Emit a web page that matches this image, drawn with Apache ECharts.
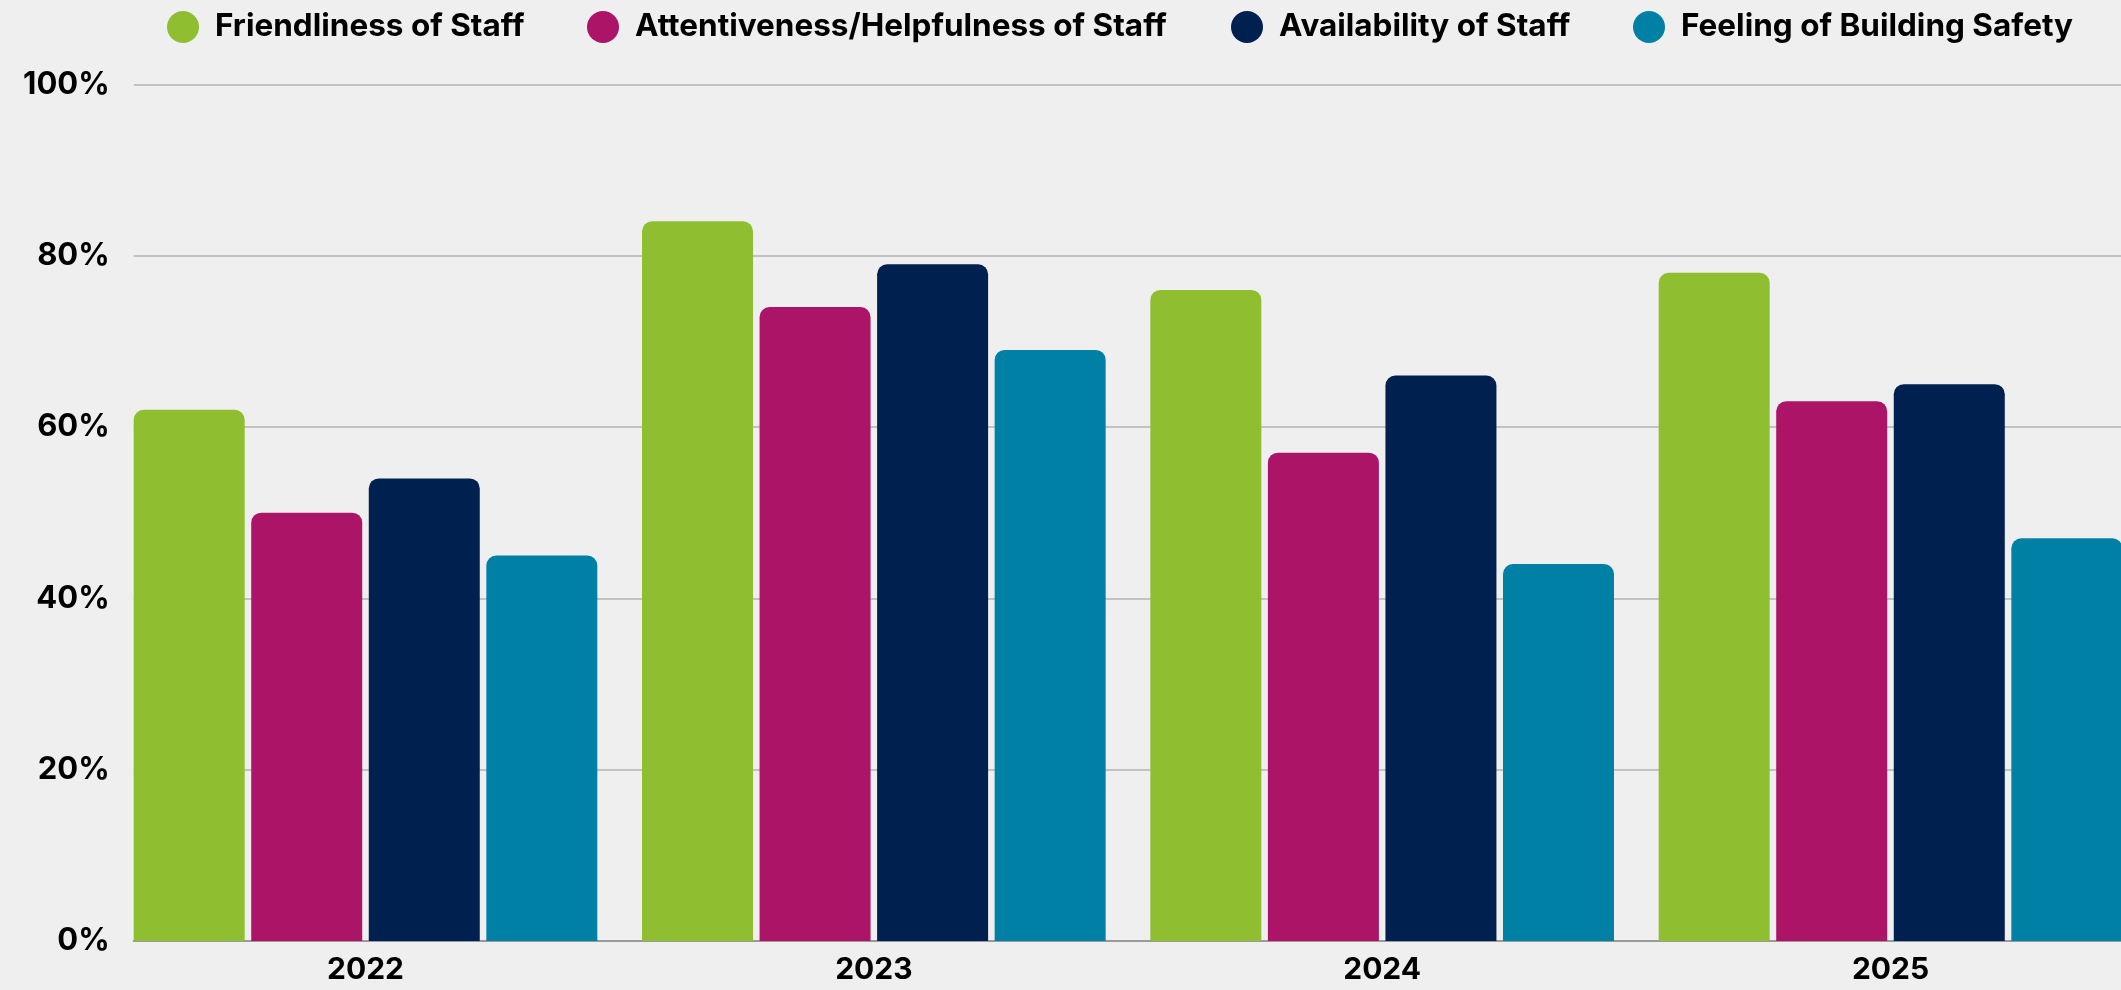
<!DOCTYPE html>
<html>
<head>
<meta charset="utf-8">
<script src="https://cdn.jsdelivr.net/npm/echarts@6/dist/echarts.min.js"></script>
<style>
html,body{margin:0;padding:0;background:#efefef;}
#chart{width:2121px;height:990px;}
</style>
</head>
<body>
<div id="chart"></div>
<script>
const categories = ['2022', '2023', '2024', '2025'];
const friendliness = [62, 84, 76, 78];
const attentiveness = [50, 74, 57, 63];
const availability = [54, 79, 66, 65];
const safety = [45, 69, 44, 47];
const seriesNames = ['Friendliness of Staff', 'Attentiveness/Helpfulness of Staff', 'Availability of Staff', 'Feeling of Building Safety'];
const colors = ['#8fbf30', '#ab1467', '#00204f', '#0080a4'];
const yTicks = [0, 20, 40, 60, 80, 100];

const FONT = 'Inter';
const chart = echarts.init(document.getElementById('chart'), null, {renderer: 'canvas'});

const legendLefts = [167, 587, 1231, 1633];
const legends = seriesNames.map((n, i) => ({
  data: [n],
  left: legendLefts[i],
  top: 11,
  padding: 0,
  itemWidth: 32,
  itemHeight: 32,
  icon: 'circle',
  selectedMode: false,
  textStyle: {fontFamily: FONT, fontWeight: 700, fontSize: 31.5, color: '#000', padding: [0, 0, 0, 11]}
}));

const dataSets = [friendliness, attentiveness, availability, safety];

chart.setOption({
  backgroundColor: '#efefef',
  animation: false,
  legend: legends,
  grid: [
    {left: 365.5, right: 230.5, top: 84.3, bottom: 49, containLabel: false},
    {left: 133.7, right: 0, top: 84.3, bottom: 49, containLabel: false}
  ],
  xAxis: [
    {
      type: 'category', gridIndex: 0, data: categories, boundaryGap: false,
      axisLine: {show: false}, axisTick: {show: false},
      axisLabel: {fontFamily: FONT, fontWeight: 700, fontSize: 30, color: '#000', margin: 14}
    },
    {
      type: 'value', gridIndex: 1, min: 0, max: 1, show: true,
      axisLine: {show: true, onZero: false, lineStyle: {color: '#9a9a9a', width: 2}},
      axisTick: {show: false}, axisLabel: {show: false}, splitLine: {show: false}
    }
  ],
  yAxis: [
    {
      type: 'value', gridIndex: 0, min: 0, max: 100, interval: 20,
      axisLine: {show: false}, axisTick: {show: false}, axisLabel: {show: false}, splitLine: {show: false}
    },
    {
      type: 'value', gridIndex: 1, min: yTicks[0], max: yTicks[yTicks.length - 1], interval: 20,
      axisLine: {show: false}, axisTick: {show: false},
      axisLabel: {fontFamily: FONT, fontWeight: 700, fontSize: 31, color: '#000', margin: 24, formatter: v => v + '%'},
      splitLine: {show: true, lineStyle: {color: '#c2c2c2', width: 2}}
    }
  ],
  series: dataSets.map((d, i) => ({
    name: seriesNames[i],
    type: 'bar',
    xAxisIndex: 0,
    yAxisIndex: 0,
    data: d,
    barWidth: 111,
    barGap: '5.9%',
    clip: false,
    itemStyle: {color: colors[i], borderRadius: [10, 10, 0, 0]},
    z: 3
  }))
});
</script>
</body>
</html>
